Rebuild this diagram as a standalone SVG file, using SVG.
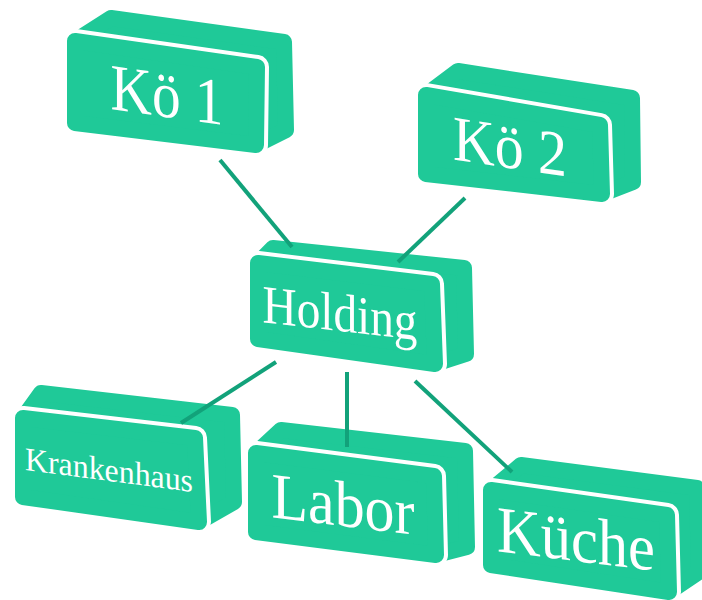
<svg xmlns="http://www.w3.org/2000/svg" width="702" height="600" viewBox="0 0 702 600">
<style>
.ext{fill:#1fc998;stroke:#1fc998;stroke-width:16;stroke-linejoin:round}
.rim{fill:#fff;stroke:#fff;stroke-width:24;stroke-linejoin:round}
.face{fill:#1fc998;stroke:#1fc998;stroke-width:16;stroke-linejoin:round}
.lbl{font-family:"Liberation Serif","Times New Roman",serif;fill:#fff;text-anchor:middle}
.con{stroke:#12a27a;stroke-width:4;fill:none;stroke-linecap:butt}
</style>
<rect width="702" height="600" fill="#fff"/>
<g id="koe1">
<polygon class="ext" points="75,41 111,18 284,42 286,130 256,145 75,123"/>
<polygon class="rim" points="75,41 257,67 256,145 75,123"/>
<polygon class="face" points="75,41 257,67 256,145 75,123"/>
<text class="lbl" font-size="66" textLength="113" lengthAdjust="spacingAndGlyphs" transform="translate(167,117) skewY(8)">Kö 1</text>
</g>
<g id="koe2">
<polygon class="ext" points="426,95 458,71 632,98 633,182 602,194 426,174"/>
<polygon class="rim" points="426,95 600,125 602,194 426,174"/>
<polygon class="face" points="426,95 600,125 602,194 426,174"/>
<text class="lbl" font-size="64" textLength="114" lengthAdjust="spacingAndGlyphs" transform="translate(510,168) skewY(8.5)">Kö 2</text>
</g>
<g id="holding">
<polygon class="ext" points="258,263 273,248 464,268 466,354 435,364 258,339"/>
<polygon class="rim" points="258,263 432,284 435,364 258,339"/>
<polygon class="face" points="258,263 432,284 435,364 258,339"/>
<text class="lbl" font-size="54" textLength="155" lengthAdjust="spacingAndGlyphs" transform="translate(340,331) skewY(6.5)">Holding</text>
</g>
<g id="krankenhaus">
<polygon class="ext" points="23,418 41,393 232,415 234,502 199,522 23,497"/>
<polygon class="rim" points="23,418 195,438 199,522 23,497"/>
<polygon class="face" points="23,418 195,438 199,522 23,497"/>
<text class="lbl" font-size="33" textLength="168" lengthAdjust="spacingAndGlyphs" transform="translate(109,481) skewY(7.5)">Krankenhaus</text>
</g>
<g id="labor">
<polygon class="ext" points="256,453 281,430 465,451 467,547 436,555 256,532"/>
<polygon class="rim" points="256,453 434,476 436,555 256,532"/>
<polygon class="face" points="256,453 434,476 436,555 256,532"/>
<text class="lbl" font-size="65" textLength="143" lengthAdjust="spacingAndGlyphs" transform="translate(343,526) skewY(7)">Labor</text>
</g>
<g id="kueche">
<polygon class="ext" points="491,490 521,465 697,488 699,572 669,592 491,565"/>
<polygon class="rim" points="491,490 667,515 669,592 491,565"/>
<polygon class="face" points="491,490 667,515 669,592 491,565"/>
<text class="lbl" font-size="66" textLength="158" lengthAdjust="spacingAndGlyphs" transform="translate(576,561) skewY(7)">Küche</text>
</g>
<g id="connectors">
<line class="con" x1="220" y1="160" x2="292" y2="247"/>
<line class="con" x1="465" y1="198" x2="398" y2="262"/>
<line class="con" x1="276" y1="362" x2="181" y2="423"/>
<line class="con" x1="347" y1="372" x2="347" y2="447"/>
<line class="con" x1="415" y1="381" x2="512" y2="472"/>
</g>
</svg>
